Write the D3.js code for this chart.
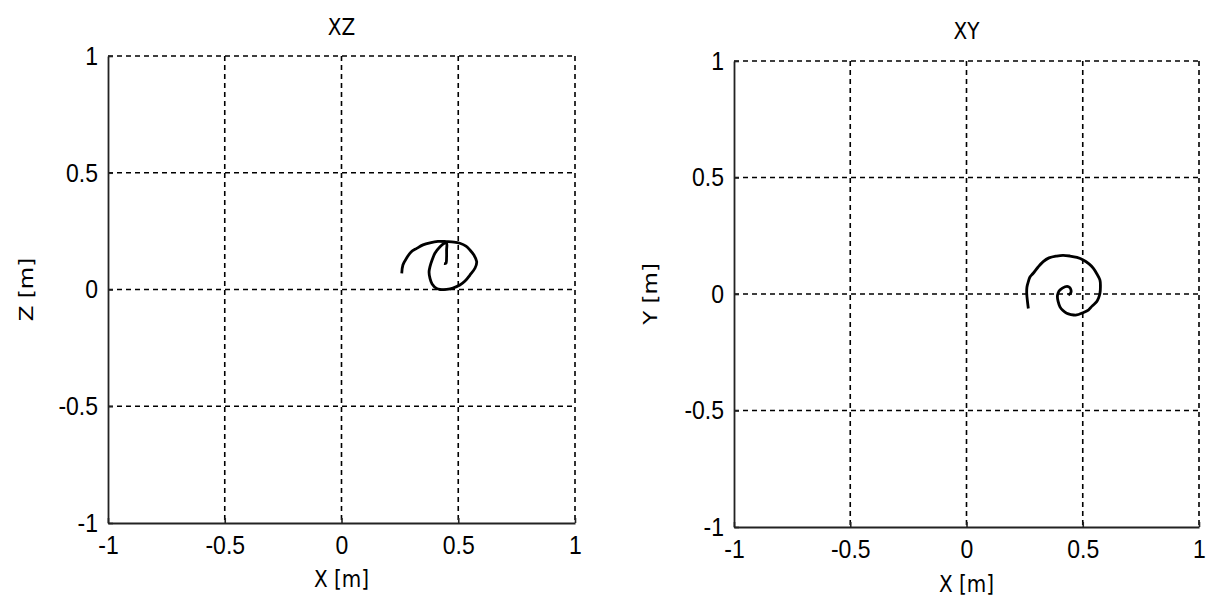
<!DOCTYPE html>
<html>
<head>
<meta charset="utf-8">
<script src="https://cdn.jsdelivr.net/npm/d3@7"></script>
<style>
  html, body { margin: 0; padding: 0; background: #fff; }
  svg { display: block; }
  .tick-label { font-family: "Liberation Sans", Arial, sans-serif; font-size: 23px; fill: #000; }
  .ax-label { font-family: "DejaVu Sans", "Noto Sans", sans-serif; font-size: 20px; fill: #000; }
</style>
</head>
<body>
<svg id="chart" width="1208" height="601"></svg>
<script>
// Trajectory projections (metres)
const ticks = [-1, -0.5, 0, 0.5, 1];
const tickLabels = ["-1", "-0.5", "0", "0.5", "1"];

const xzX = [0.258, 0.263, 0.279, 0.298, 0.322, 0.349, 0.379, 0.413, 0.450, 0.482, 0.507, 0.533, 0.550, 0.567, 0.579, 0.572, 0.550, 0.529, 0.507, 0.477, 0.450, 0.422, 0.407, 0.388, 0.379, 0.375, 0.379, 0.388, 0.400, 0.422, 0.439, 0.450, 0.450, 0.450, 0.447, 0.439];
const xzZ = [0.069, 0.105, 0.135, 0.161, 0.176, 0.191, 0.200, 0.206, 0.205, 0.203, 0.198, 0.186, 0.169, 0.148, 0.119, 0.092, 0.062, 0.036, 0.019, 0.006, 0.001, 0.000, 0.005, 0.024, 0.048, 0.075, 0.098, 0.126, 0.155, 0.183, 0.197, 0.199, 0.169, 0.139, 0.112, 0.111];

const xyX = [0.266, 0.262, 0.259, 0.260, 0.266, 0.273, 0.287, 0.308, 0.330, 0.355, 0.388, 0.415, 0.445, 0.475, 0.502, 0.527, 0.545, 0.561, 0.574, 0.576, 0.574, 0.568, 0.560, 0.540, 0.524, 0.497, 0.474, 0.449, 0.431, 0.415, 0.402, 0.394, 0.391, 0.394, 0.402, 0.424, 0.437, 0.445, 0.449, 0.438];
const xyY = [-0.062, -0.030, 0.003, 0.030, 0.053, 0.073, 0.089, 0.116, 0.139, 0.155, 0.163, 0.166, 0.163, 0.157, 0.146, 0.129, 0.111, 0.086, 0.060, 0.030, 0.003, -0.017, -0.033, -0.052, -0.069, -0.082, -0.090, -0.088, -0.083, -0.071, -0.055, -0.032, -0.012, 0.004, 0.017, 0.031, 0.032, 0.027, 0.006, -0.004];

const panels = [
  { title: "XZ", xLabel: "X [m]", yLabel: "Z [m]", xs: xzX, ys: xzZ,
    left: 108, right: 575, top: 56, bottom: 523,
    titleY: 29, xLabelY: 581, yLabelX: 27 },
  { title: "XY", xLabel: "X [m]", yLabel: "Y [m]", xs: xyX, ys: xyY,
    left: 734, right: 1199, top: 61, bottom: 527,
    titleY: 33, xLabelY: 586, yLabelX: 651 }
];

const textStretch = 1.15;   // glyphs are drawn slightly taller than wide
const svg = d3.select("#chart");

panels.forEach(p => {
  const x = d3.scaleLinear().domain([-1, 1]).range([p.left, p.right]);
  const y = d3.scaleLinear().domain([-1, 1]).range([p.bottom, p.top]);
  const g = svg.append("g");

  // dashed grid
  g.append("g").selectAll("line").data(ticks.slice(1)).join("line")
    .attr("x1", d => x(d)).attr("x2", d => x(d))
    .attr("y1", p.top).attr("y2", p.bottom)
    .attr("stroke", "#000").attr("stroke-width", 1.6).attr("stroke-dasharray", "5,4");
  g.append("g").selectAll("line").data(ticks.slice(1)).join("line")
    .attr("y1", d => y(d)).attr("y2", d => y(d))
    .attr("x1", p.left).attr("x2", p.right)
    .attr("stroke", "#000").attr("stroke-width", 1.6).attr("stroke-dasharray", "5,4");

  // axes with inward ticks
  const xAxis = d3.axisBottom(x).tickValues(ticks).tickFormat((d, i) => tickLabels[i])
    .tickSizeInner(-5).tickSizeOuter(0).tickPadding(11);
  const yAxis = d3.axisLeft(y).tickValues(ticks).tickFormat((d, i) => tickLabels[i])
    .tickSizeInner(-5).tickSizeOuter(0).tickPadding(10);

  const gx = g.append("g").attr("transform", `translate(0,${p.bottom})`).call(xAxis);
  const gy = g.append("g").attr("transform", `translate(${p.left},0)`).call(yAxis);
  [gx, gy].forEach(a => {
    a.attr("font-size", null).attr("font-family", null);
    a.select(".domain").attr("stroke", "#222").attr("stroke-width", 1.8);
    a.selectAll(".tick line").attr("stroke", "#222").attr("stroke-width", 1.6);
    a.selectAll(".tick text").attr("class", "tick-label")
      .attr("transform", `scale(1,${textStretch})`);
  });

  // trajectory
  const pts = p.xs.map((v, i) => [v, p.ys[i]]);
  g.append("path").datum(pts)
    .attr("fill", "none").attr("stroke", "#000").attr("stroke-width", 2.8)
    .attr("stroke-linejoin", "round").attr("stroke-linecap", "butt")
    .attr("d", d3.line().x(d => x(d[0])).y(d => y(d[1])).curve(d3.curveCatmullRom.alpha(0.5)));

  // titles and axis labels
  const cx = (p.left + p.right) / 2;
  const cy = (p.top + p.bottom) / 2;
  const label = (tx, ty, rot, str) => g.append("text").attr("class", "ax-label")
    .attr("transform", `translate(${tx},${ty}) rotate(${rot}) scale(1,${textStretch})`)
    .attr("text-anchor", "middle").attr("dominant-baseline", "middle").text(str);
  label(cx, p.titleY, 0, p.title);
  label(cx, p.xLabelY, 0, p.xLabel);
  g.append("text").attr("class", "ax-label")
    .attr("transform", `translate(${p.yLabelX},${cy}) rotate(-90) scale(${textStretch},1)`)
    .attr("text-anchor", "middle").attr("dominant-baseline", "middle").text(p.yLabel);
});
</script>
</body>
</html>
